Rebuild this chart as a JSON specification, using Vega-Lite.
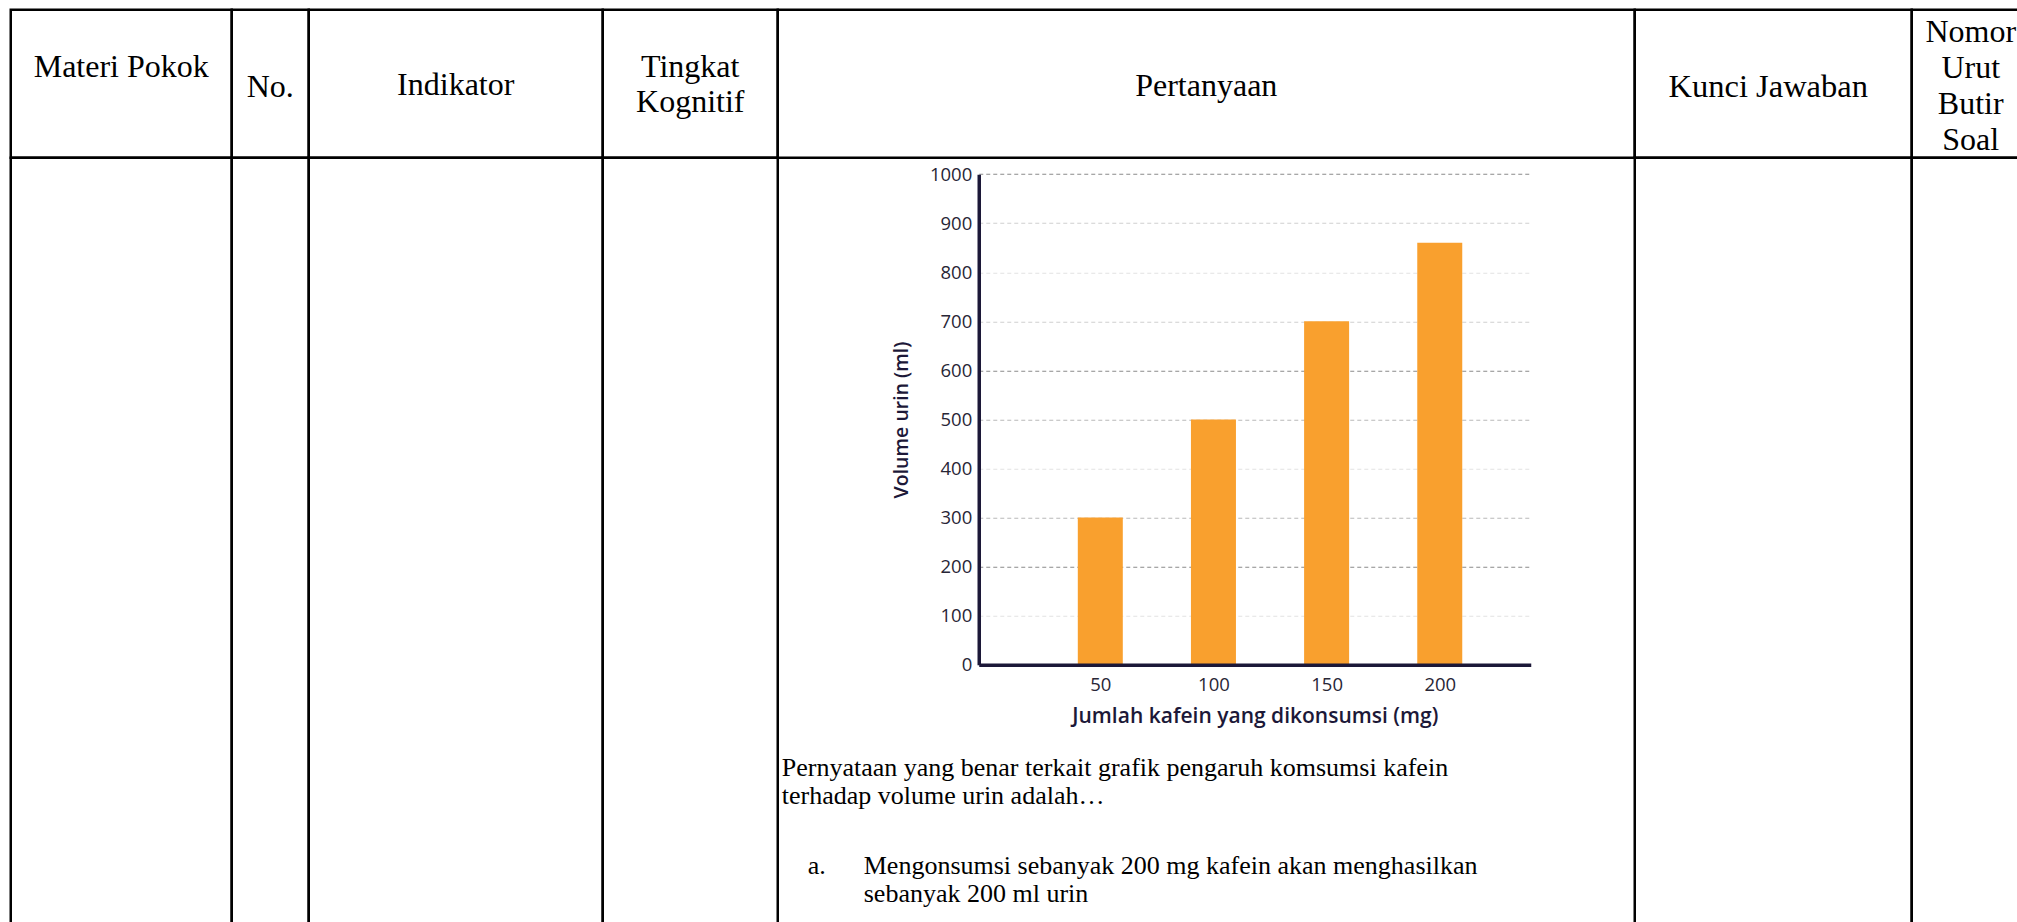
{
  "$schema": "https://vega.github.io/schema/vega-lite/v6.json",
  "background": "white",
  "padding": {"left": 8.75, "top": 7.75, "right": 0, "bottom": 0},
  "columns": 7,
  "spacing": 0,
  "bounds": "flush",
  "align": "each",
  "config": {
    "view": {"stroke": null},
    "concat": {"spacing": 0}
  },
  "concat": [
    {"width": 221, "height": 148, "layer": [
      {"data": {"values": [{}]}, "mark": {"type": "rect", "fill": null, "stroke": "black", "strokeWidth": 2.5}, "encoding": {}},
      {"data": {"values": [{"label": "Materi Pokok"}]},
       "mark": {"type": "text", "font": "Liberation Serif", "fontSize": 32, "color": "black", "baseline": "middle", "align": "center", "dy": -17, "lineBreak": "\n", "lineHeight": 36},
       "encoding": {"text": {"field": "label", "type": "nominal"}}}]},
    {"width": 77, "height": 148, "layer": [
      {"data": {"values": [{}]}, "mark": {"type": "rect", "fill": null, "stroke": "black", "strokeWidth": 2.5}, "encoding": {}},
      {"data": {"values": [{"label": "No."}]},
       "mark": {"type": "text", "font": "Liberation Serif", "fontSize": 32, "color": "black", "baseline": "middle", "align": "center", "dy": 3, "lineBreak": "\n", "lineHeight": 36},
       "encoding": {"text": {"field": "label", "type": "nominal"}}}]},
    {"width": 294, "height": 148, "layer": [
      {"data": {"values": [{}]}, "mark": {"type": "rect", "fill": null, "stroke": "black", "strokeWidth": 2.5}, "encoding": {}},
      {"data": {"values": [{"label": "Indikator"}]},
       "mark": {"type": "text", "font": "Liberation Serif", "fontSize": 32, "color": "black", "baseline": "middle", "align": "center", "dy": 1, "lineBreak": "\n", "lineHeight": 36},
       "encoding": {"text": {"field": "label", "type": "nominal"}}}]},
    {"width": 175, "height": 148, "layer": [
      {"data": {"values": [{}]}, "mark": {"type": "rect", "fill": null, "stroke": "black", "strokeWidth": 2.5}, "encoding": {}},
      {"data": {"values": [{"label": "Tingkat\nKognitif"}]},
       "mark": {"type": "text", "font": "Liberation Serif", "fontSize": 32, "color": "black", "baseline": "middle", "align": "center", "dy": -17, "lineBreak": "\n", "lineHeight": 35},
       "encoding": {"text": {"field": "label", "type": "nominal"}}}]},
    {"width": 857, "height": 148, "layer": [
      {"data": {"values": [{}]}, "mark": {"type": "rect", "fill": null, "stroke": "black", "strokeWidth": 2.5}, "encoding": {}},
      {"data": {"values": [{"label": "Pertanyaan"}]},
       "mark": {"type": "text", "font": "Liberation Serif", "fontSize": 32, "color": "black", "baseline": "middle", "align": "center", "dy": 2, "lineBreak": "\n", "lineHeight": 36},
       "encoding": {"text": {"field": "label", "type": "nominal"}}}]},
    {"width": 277, "height": 148, "layer": [
      {"data": {"values": [{}]}, "mark": {"type": "rect", "fill": null, "stroke": "black", "strokeWidth": 2.5}, "encoding": {}},
      {"data": {"values": [{"label": "Kunci Jawaban"}]},
       "mark": {"type": "text", "font": "Liberation Serif", "fontSize": 32.5, "color": "black", "baseline": "middle", "align": "center", "dx": -5, "dy": 3, "lineBreak": "\n", "lineHeight": 36},
       "encoding": {"text": {"field": "label", "type": "nominal"}}}]},
    {"width": 118, "height": 148, "layer": [
      {"data": {"values": [{}]}, "mark": {"type": "rect", "fill": null, "stroke": "black", "strokeWidth": 2.5}, "encoding": {}},
      {"data": {"values": [{"label": "Nomor\nUrut\nButir\nSoal"}]},
       "mark": {"type": "text", "font": "Liberation Serif", "fontSize": 32, "color": "black", "baseline": "middle", "align": "center", "dy": -52, "lineBreak": "\n", "lineHeight": 36},
       "encoding": {"text": {"field": "label", "type": "nominal"}}}]},
    {"width": 221, "height": 780, "data": {"values": [{}]}, "mark": {"type": "rect", "fill": null, "stroke": "black", "strokeWidth": 2.5}, "encoding": {}},
    {"width": 77, "height": 780, "data": {"values": [{}]}, "mark": {"type": "rect", "fill": null, "stroke": "black", "strokeWidth": 2.5}, "encoding": {}},
    {"width": 294, "height": 780, "data": {"values": [{}]}, "mark": {"type": "rect", "fill": null, "stroke": "black", "strokeWidth": 2.5}, "encoding": {}},
    {"width": 175, "height": 780, "data": {"values": [{}]}, "mark": {"type": "rect", "fill": null, "stroke": "black", "strokeWidth": 2.5}, "encoding": {}},
    {
      "width": 857, "height": 780,
      "resolve": {"scale": {"x": "independent", "y": "independent"}},
      "layer": [
        {
          "data": {"values": [
            {"kafein": 50, "volume": 300},
            {"kafein": 100, "volume": 500},
            {"kafein": 150, "volume": 700},
            {"kafein": 200, "volume": 860}
          ]},
          "mark": {"type": "bar", "width": 45, "color": "#F9A02E"},
          "encoding": {
            "x": {"field": "kafein", "type": "quantitative",
              "scale": {"domain": [-1.5, 238], "range": [201, 753], "nice": false, "zero": false},
              "axis": {"title": "Jumlah kafein yang dikonsumsi (mg)", "values": [50, 100, 150, 200], "offset": -273,
                "ticks": false, "tickSize": 0, "grid": false, "domainColor": "#1c1838", "domainWidth": 3.5,
                "labelFont": "Open Sans", "labelFontSize": 18.5, "labelFontWeight": 500, "labelColor": "#282636", "labelPadding": 11,
                "labelFlush": false, "labelOverlap": false,
                "titleFont": "Open Sans", "titleFontSize": 21, "titleFontWeight": 600, "titleColor": "#1c1838", "titlePadding": 11,
                "zindex": 1}},
            "y": {"field": "volume", "type": "quantitative",
              "scale": {"domain": [0, 1000], "range": [507, 16.4], "nice": false},
              "axis": {"title": "Volume urin (ml)", "values": [0, 100, 200, 300, 400, 500, 600, 700, 800, 900, 1000], "format": "d", "offset": -201,
                "ticks": false, "tickSize": 0, "domainColor": "#1c1838", "domainWidth": 3.5,
                "grid": true, "gridDash": [4, 3], "gridWidth": 1,
                "gridColor": {"condition": {"test": "indexof([1000, 600, 500, 300, 200], datum.value) >= 0", "value": "#8a8a8a"}, "value": "#cfcfcf"},
                "gridOpacity": {"condition": {"test": "indexof([1000, 600, 200, 900, 700], datum.value) >= 0", "value": 1}, "value": 0.6},
                "labelFont": "Open Sans", "labelFontSize": 18.5, "labelFontWeight": 500, "labelColor": "#282636", "labelPadding": 7,
                "labelFlush": false, "labelOverlap": false,
                "titleFont": "Open Sans", "titleFontSize": 19.5, "titleFontWeight": 600, "titleColor": "#1c1838", "titlePadding": 18}}
          }
        },
        {
          "data": {"values": [
            {"part": "stem", "line": 1, "text": "Pernyataan yang benar terkait grafik pengaruh komsumsi kafein"},
            {"part": "stem", "line": 2, "text": "terhadap volume urin adalah…"}
          ]},
          "mark": {"type": "text", "font": "Liberation Serif", "fontSize": 26, "color": "black", "align": "left", "baseline": "alphabetic"},
          "encoding": {
            "x": {"field": "part", "type": "nominal", "scale": {"type": "point", "domain": ["stem", "option"], "range": [4, 86], "padding": 0}, "axis": null},
            "y": {"field": "line", "type": "quantitative", "scale": {"domain": [1, 5], "range": [618, 730], "nice": false, "zero": false}, "axis": null},
            "text": {"field": "text", "type": "nominal"}
          }
        },
        {
          "data": {"values": [
            {"part": "marker", "line": 4, "text": "a."},
            {"part": "option", "line": 4, "text": "Mengonsumsi sebanyak 200 mg kafein akan menghasilkan"},
            {"part": "option", "line": 5, "text": "sebanyak 200 ml urin"}
          ]},
          "mark": {"type": "text", "font": "Liberation Serif", "fontSize": 26, "color": "black", "align": "left", "baseline": "alphabetic", "dy": 14},
          "encoding": {
            "x": {"field": "part", "type": "nominal", "scale": {"type": "point", "domain": ["marker", "option"], "range": [30, 86], "padding": 0}, "axis": null},
            "y": {"field": "line", "type": "quantitative", "scale": {"domain": [1, 5], "range": [618, 730], "nice": false, "zero": false}, "axis": null},
            "text": {"field": "text", "type": "nominal"}
          }
        }
      ]
    },
    {"width": 277, "height": 780, "data": {"values": [{}]}, "mark": {"type": "rect", "fill": null, "stroke": "black", "strokeWidth": 2.5}, "encoding": {}},
    {"width": 118, "height": 780, "data": {"values": [{}]}, "mark": {"type": "rect", "fill": null, "stroke": "black", "strokeWidth": 2.5}, "encoding": {}}
  ]
}
